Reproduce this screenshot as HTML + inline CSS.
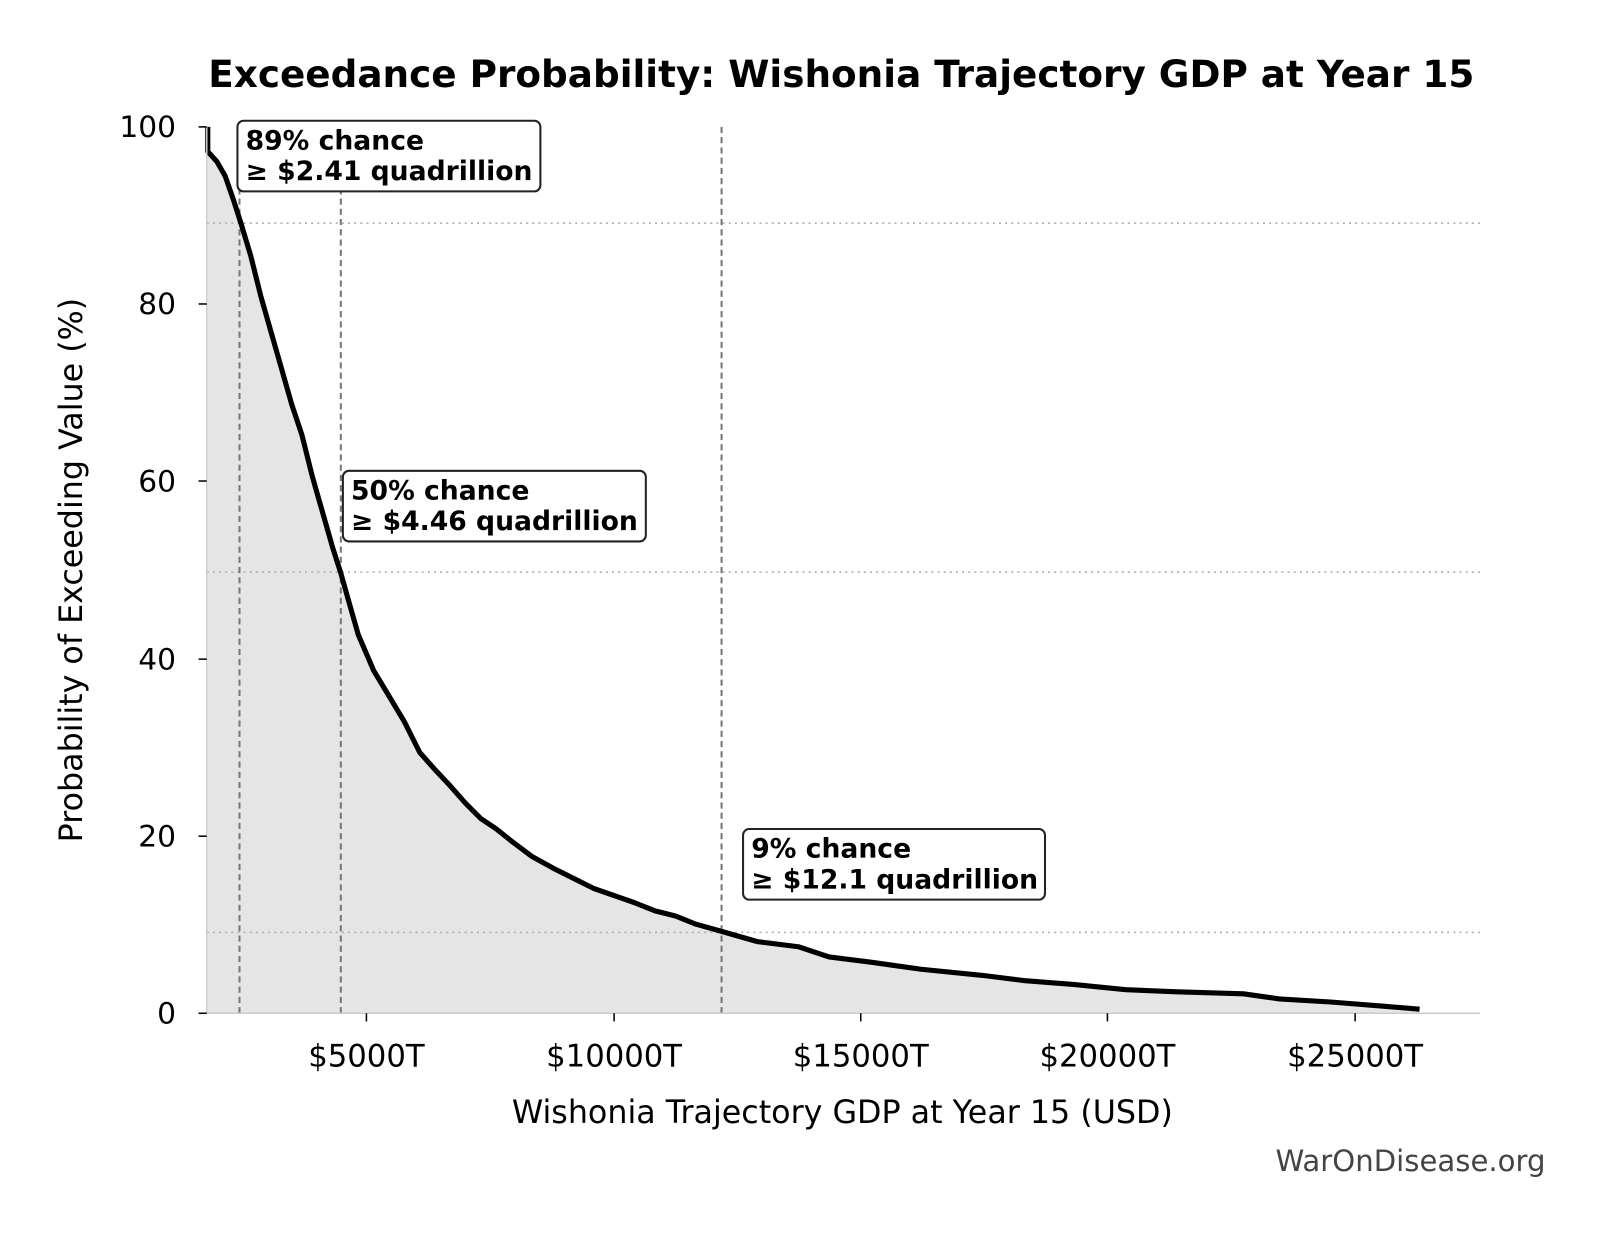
<!DOCTYPE html>
<html><head><meta charset="utf-8"><style>
body{margin:0;background:#fff;overflow:hidden}
svg{display:block}
text{font-family:"DejaVu Sans","Liberation Sans",sans-serif}
</style></head><body>
<svg width="1604" height="1234" viewBox="0 0 1604 1234" xmlns="http://www.w3.org/2000/svg">
<rect width="1604" height="1234" fill="#fff"/>
<g transform="scale(1.0235)">
<text x="822" y="85" text-anchor="middle" font-size="36.5" font-weight="bold">Exceedance Probability: Wishonia Trajectory GDP at Year 15</text>
<polygon fill="#e5e5e5" points="203,990 203,124 203,148 212,158 220,172 228,195 236,220 245,250 255,290 265,325 275,360 285,395 295,425 305,465 315,500 325,535 333,560 340,585 350,620 365,655 380,680 395,705 410,735 425,752 440,768 455,785 470,800 485,810 500,822 520,837 540,848 560,858 580,868 600,875 620,882 640,890 660,895 680,903 705,910 740,920 780,925 810,935 850,940 900,947 960,953 1000,958 1050,962 1100,967 1150,969 1215,971 1250,976 1300,979 1350,983 1387,986 1387,990"/>
<g stroke="#aaa" stroke-width="1.5" stroke-dasharray="2,4">
<line x1="202" y1="218" x2="1446" y2="218"/><line x1="202" y1="559" x2="1446" y2="559"/><line x1="202" y1="911" x2="1446" y2="911"/>
</g>
<g stroke="#777" stroke-width="2" stroke-dasharray="6,4">
<line x1="234" y1="124" x2="234" y2="990"/><line x1="333" y1="124" x2="333" y2="990"/><line x1="705" y1="124" x2="705" y2="990"/>
</g>
<polyline fill="none" stroke="#000" stroke-width="5" stroke-linejoin="round" points="203,124 203,148 212,158 220,172 228,195 236,220 245,250 255,290 265,325 275,360 285,395 295,425 305,465 315,500 325,535 333,560 340,585 350,620 365,655 380,680 395,705 410,735 425,752 440,768 455,785 470,800 485,810 500,822 520,837 540,848 560,858 580,868 600,875 620,882 640,890 660,895 680,903 705,910 740,920 780,925 810,935 850,940 900,947 960,953 1000,958 1050,962 1100,967 1150,969 1215,971 1250,976 1300,979 1350,983 1387,986"/>
<g stroke="#ccc" stroke-width="1.5"><line x1="202" y1="124" x2="202" y2="990"/><line x1="202" y1="990" x2="1446" y2="990"/></g>
<g stroke="#000" stroke-width="1.5">
<line x1="194" y1="124" x2="202" y2="124"/><line x1="194" y1="297" x2="202" y2="297"/><line x1="194" y1="470" x2="202" y2="470"/><line x1="194" y1="644" x2="202" y2="644"/><line x1="194" y1="817" x2="202" y2="817"/><line x1="194" y1="990" x2="202" y2="990"/>
<line x1="358" y1="990" x2="358" y2="998"/><line x1="600" y1="990" x2="600" y2="998"/><line x1="841" y1="990" x2="841" y2="998"/><line x1="1082" y1="990" x2="1082" y2="998"/><line x1="1324" y1="990" x2="1324" y2="998"/>
</g>
<g font-size="29" text-anchor="end">
<text x="172" y="134">100</text><text x="172" y="307">80</text><text x="172" y="480">60</text><text x="172" y="654">40</text><text x="172" y="827">20</text><text x="172" y="1000">0</text>
</g>
<g font-size="30" text-anchor="middle">
<text x="358" y="1042">$5000T</text><text x="600" y="1042">$10000T</text><text x="841" y="1042">$15000T</text><text x="1082" y="1042">$20000T</text><text x="1324" y="1042">$25000T</text>
</g>
<text x="823" y="1097" text-anchor="middle" font-size="31">Wishonia Trajectory GDP at Year 15 (USD)</text>
<text transform="translate(80,557) rotate(-90)" text-anchor="middle" font-size="31">Probability of Exceeding Value (%)</text>
<g stroke="#222" stroke-width="2" fill="#fff">
<rect x="232" y="118" width="296" height="69" rx="6"/><rect x="335" y="460" width="296" height="69" rx="6"/><rect x="726" y="810" width="295" height="69" rx="6"/>
</g>
<g font-size="26" font-weight="bold">
<text x="240" y="146">89% chance</text><text x="240" y="176">≥ $2.41 quadrillion</text>
<text x="343" y="488">50% chance</text><text x="343" y="518">≥ $4.46 quadrillion</text>
<text x="734" y="838">9% chance</text><text x="734" y="868">≥ $12.1 quadrillion</text>
</g>
<text x="1510" y="1144" text-anchor="end" font-size="28.5" fill="#444">WarOnDisease.org</text>
</g>
</svg>
</body></html>
